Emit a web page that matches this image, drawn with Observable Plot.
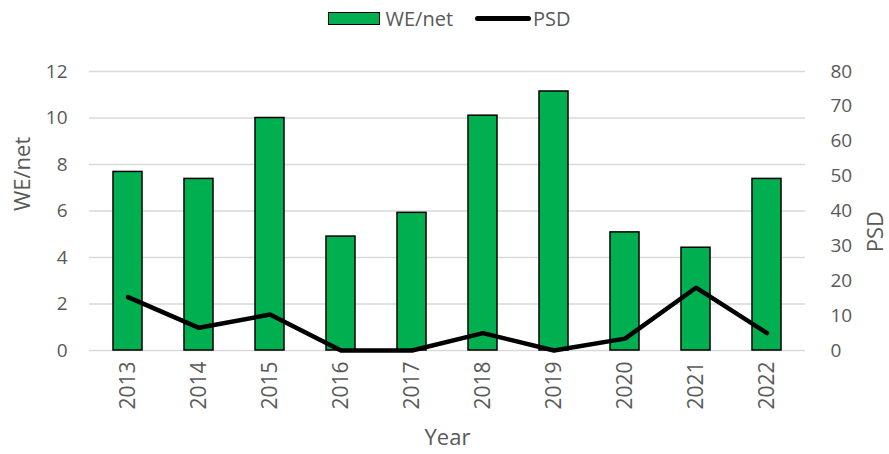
<!DOCTYPE html>
<html>
<head>
<meta charset="utf-8">
<script src="https://cdn.jsdelivr.net/npm/d3@7"></script>
<script src="https://cdn.jsdelivr.net/npm/@observablehq/plot@0.6"></script>
<style>
  body { margin: 0; background: #fff; font-family: "Open Sans", sans-serif; }
  #legend { height: 36px; display: flex; justify-content: center; align-items: center; padding-left: 10px; color: #595959; font-size: 20px; }
  .sw { width: 50px; height: 11px; background: #00B050; border: 1.5px solid #000; margin-right: 5px; }
  .ln { width: 56px; height: 5px; background: #000; border-radius: 3px; margin-left: 22px; margin-right: 2px; }
</style>
</head>
<body>
<div id="legend"><div class="sw"></div><span>WE/net</span><div class="ln"></div><span>PSD</span></div>
<div id="chart"></div>
<script>
const years = ["2013","2014","2015","2016","2017","2018","2019","2020","2021","2022"];
const weNet = [7.68, 7.38, 10.0, 4.9, 5.92, 10.1, 11.14, 5.08, 4.42, 7.38];
const psd = [15.3, 6.5, 10.3, 0, 0, 5.0, 0, 3.4, 18.0, 5.0];
const leftTicks = [0, 2, 4, 6, 8, 10, 12];
const rightTicks = [0, 10, 20, 30, 40, 50, 60, 70, 80];
const leftMax = 12, rightMax = 80;

const data = years.map((y, i) => ({year: y, we: weNet[i], psd: psd[i]}));
const toLeft = v => v * leftMax / rightMax;

const chart = Plot.plot({
  width: 889,
  height: 418,
  marginTop: 35,
  marginBottom: 104,
  marginLeft: 89,
  marginRight: 84,
  style: {fontFamily: "Open Sans", fontSize: "19px", color: "#595959", background: "#fff"},
  x: {domain: years, paddingInner: 0.59, paddingOuter: 0.295, label: null},
  y: {domain: [0, leftMax], label: null},
  marks: [
    Plot.gridY(leftTicks, {stroke: "#d9d9d9", strokeOpacity: 1, strokeWidth: 1.5}),
    Plot.barY(data, {x: "year", y: "we", fill: "#00B050", stroke: "#000", strokeWidth: 1.5}),
    Plot.lineY(data, {x: "year", y: d => toLeft(d.psd), stroke: "#000", strokeWidth: 4.5, strokeLinejoin: "round", strokeLinecap: "round"}),
    Plot.axisY(leftTicks, {anchor: "left", tickSize: 0, tickPadding: 22, label: null, fill: "#595959"}),
    Plot.axisY(rightTicks.map(toLeft), {anchor: "right", tickSize: 0, tickPadding: 25, label: null, fill: "#595959", tickFormat: d => Math.round(d * rightMax / leftMax)}),
    Plot.axisX({tickSize: 0, tickRotate: -90, tickPadding: 11, label: null, fill: "#595959", fontSize: 21}),
    Plot.text(["WE/net"], {frameAnchor: "left", dx: -67, rotate: -90, fontSize: 22, fill: "#595959"}),
    Plot.text(["PSD"], {frameAnchor: "right", dx: 70, rotate: -90, fontSize: 22, fill: "#595959"}),
    Plot.text(["Year"], {frameAnchor: "bottom", dy: 94, fontSize: 22, fill: "#595959"})
  ]
});
document.getElementById("chart").appendChild(chart);
</script>
</body>
</html>
